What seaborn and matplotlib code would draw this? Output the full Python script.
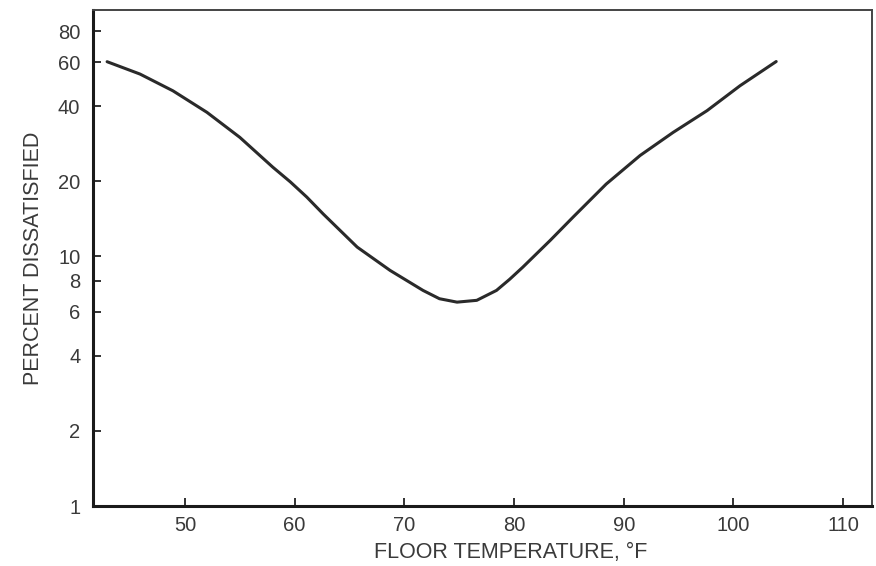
import matplotlib
matplotlib.use("Agg")
import matplotlib.pyplot as plt
import seaborn as sns
import pandas as pd
from matplotlib.ticker import FixedLocator, NullFormatter

floor_temp_f = [42.9, 45.9, 48.9, 52.0, 55.0, 58.0, 59.6, 61.1, 62.6, 65.7, 68.7,
                71.7, 73.2, 74.8, 76.6, 78.4, 79.6, 80.8, 83.3, 85.4, 88.4, 91.5,
                94.5, 97.6, 100.6, 103.9]
percent_dissatisfied = [60.3, 53.8, 46.1, 37.8, 30.0, 22.8, 19.9, 17.3, 14.8, 10.9, 8.79,
                        7.31, 6.77, 6.56, 6.67, 7.31, 8.1, 9.06, 11.6, 14.4, 19.5, 25.4,
                        31.4, 38.4, 48.3, 60.4]

x_ticks = [50, 60, 70, 80, 90, 100, 110]
y_major = [1, 2, 4, 6, 8, 10, 20, 40, 60, 80]
y_minor = [3, 5, 7, 9, 30, 50, 70, 90]

df = pd.DataFrame({"temp": floor_temp_f, "pct": percent_dissatisfied})

sns.set_style("white")
plt.rcParams["font.family"] = ["Liberation Sans", "DejaVu Sans"]
plt.rcParams["lines.solid_joinstyle"] = "round"

fig = plt.figure(figsize=(8.76, 5.66), dpi=100)
ax = fig.add_axes([0.106, 0.106, 0.889, 0.876])

sns.lineplot(data=df, x="temp", y="pct", ax=ax, color="#2a2a2a", linewidth=2.2, sort=False)

ax.set_yscale("log")
ax.set_xlim(41.6, 112.6)
ax.set_ylim(1, 97)

ax.set_xticks(x_ticks)
ax.set_xticklabels([str(v) for v in x_ticks])
ax.yaxis.set_major_locator(FixedLocator(y_major))
ax.set_yticklabels([str(v) for v in y_major])
ax.yaxis.set_minor_locator(FixedLocator(y_minor))
ax.yaxis.set_minor_formatter(NullFormatter())

txt = "#3a3a3a"
ax.tick_params(axis="both", which="both", direction="in", length=6, width=1.3,
               colors="#222222", labelcolor=txt, labelsize=14.5)
ax.tick_params(axis="x", pad=7)
ax.tick_params(axis="y", pad=9, right=False, left=True)
ax.tick_params(axis="x", top=False, bottom=True)

for side in ["left", "bottom"]:
    ax.spines[side].set_linewidth(2.2)
    ax.spines[side].set_color("#1a1a1a")
for side in ["top", "right"]:
    ax.spines[side].set_linewidth(1.4)
    ax.spines[side].set_color("#444444")

ax.set_xlabel("FLOOR TEMPERATURE, °F", fontsize=15.5, color=txt, labelpad=5, x=0.537)
ax.set_ylabel("PERCENT DISSATISFIED", fontsize=15.5, color=txt, labelpad=10)
ax.grid(False)

fig.savefig("out.png", dpi=100, facecolor="white")
